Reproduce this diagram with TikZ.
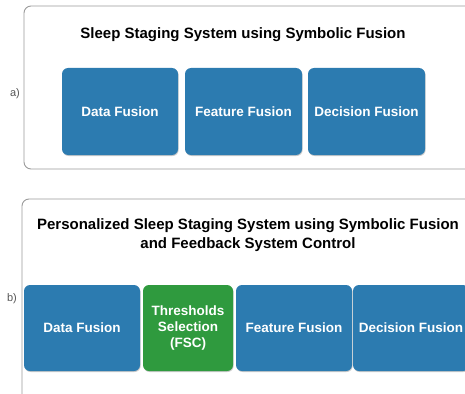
\documentclass[tikz,border=0pt]{standalone}
\usepackage{fontspec}
\setmainfont{Liberation Sans}
\usetikzlibrary{shadows}
\definecolor{boxblue}{HTML}{2C7BB0}
\definecolor{boxgreen}{HTML}{2F9A3E}
\definecolor{framegray}{HTML}{9A9A9A}
\definecolor{labelgray}{HTML}{555555}
\tikzset{
  frame/.style={draw=framegray, line width=0.9pt, rounded corners=7pt},
  fusionbox/.style={rectangle, rounded corners=6pt, fill=boxblue, text=white,
    font=\fontsize{13.5}{16}\selectfont\bfseries, align=center, inner sep=0pt,
    minimum height=87pt,
    drop shadow={shadow xshift=0.6pt, shadow yshift=-1pt, opacity=0.35, fill=black!60}},
  greenbox/.style={fusionbox, fill=boxgreen},
  titletext/.style={font=\fontsize{15}{18.5}\selectfont\bfseries, align=center, text=black},
  sidelabel/.style={font=\fontsize{11}{13}\selectfont, text=labelgray}
}
\begin{document}
\begin{tikzpicture}[x=1pt,y=-1pt]
\useasboundingbox (0,0) rectangle (465,393);
\clip (0,0) rectangle (465,393);
% panel a
\draw[frame] (24,6) rectangle (490,169);
\node[titletext] (ta) at (243,35) {Sleep Staging System using Symbolic Fusion};
\node[sidelabel] (la) at (15,94) {a)};
\node[fusionbox, minimum width=116pt] (a1) at (120,111.5) {Data Fusion};
\node[fusionbox, minimum width=117pt] (a2) at (243.5,111.5) {Feature Fusion};
\node[fusionbox, minimum width=117pt] (a3) at (366.5,111.5) {Decision Fusion};
% panel b
\draw[frame] (22,199) rectangle (490,410);
\node[titletext] (tb) at (248,235) {Personalized Sleep Staging System using Symbolic Fusion\\and Feedback System Control};
\node[sidelabel] (lb) at (12,299) {b)};
\node[fusionbox, minimum width=116pt, minimum height=86pt] (b1) at (82,328) {Data Fusion};
\node[greenbox, minimum width=90pt, minimum height=86pt] (b2) at (188,328) {Thresholds\\Selection\\(FSC)};
\node[fusionbox, minimum width=116pt, minimum height=86pt] (b3) at (294,328) {Feature Fusion};
\node[fusionbox, minimum width=116pt, minimum height=86pt] (b4) at (411,328) {Decision Fusion};
\end{tikzpicture}
\end{document}
